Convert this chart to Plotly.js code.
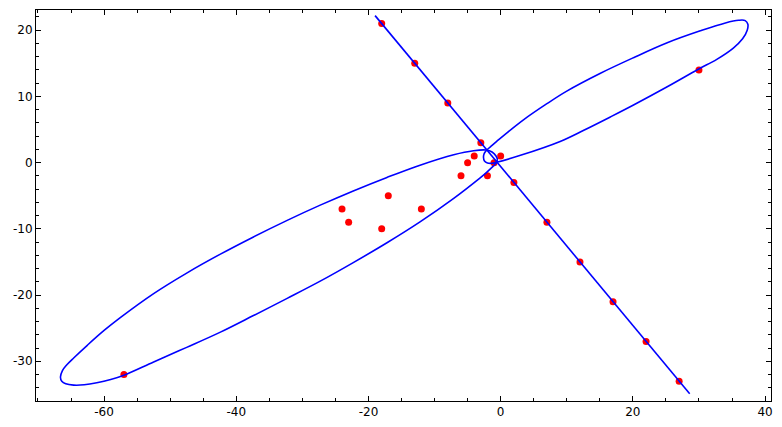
<!DOCTYPE html>
<html>
<head>
<meta charset="utf-8">
<script src="https://cdn.plot.ly/plotly-3.0.1.min.js"></script>
<style>html,body{margin:0;padding:0;background:#fff;}#chart{width:782px;height:427px;}</style>
</head>
<body>
<div id="chart"></div>
<script>
// Red points
const pointsX = [-18, -13, -8, -3, 2, 7, 12, 17, 22, 27, 30, -57, -24, -23, -18, -17, -12, -6, -5, -4, -2, -1, 0];
const pointsY = [21, 15, 9, 3, -3, -9, -15, -21, -27, -33, 14, -32, -7, -9, -10, -5, -7, -2, 0, 1, -2, 0, 1];

// Straight line (end points)
const lineX = [-19.0, 28.6];
const lineY = [22.2, -34.9];

// Lower-left oval (closed path)
const lowerOvalX = [-0.5, -0.7, -1.3, -2.2, -4.1, -7.1, -12.2, -17.2, -22.3, -27.3, -32.3, -37.4, -42.4, -47.5, -52.5, -57.6, -60, -62.5, -64.6, -65.7, -66.3, -66.6, -66.4, -65.8, -64.6, -63, -61.1, -59, -57, -52.5, -47.5, -42.4, -37.4, -32.3, -27.3, -22.3, -17.2, -12.2, -7.1, -3.1, -2.2, -1.4, -0.75, -0.5];
const lowerOvalY = [0.4, 1.0, 1.6, 1.9, 1.8, 1.2, -0.38, -2.23, -4.27, -6.42, -8.72, -11.22, -13.82, -16.68, -19.78, -23.45, -25.35, -27.55, -29.5, -30.6, -31.4, -32.4, -33.0, -33.4, -33.6, -33.55, -33.25, -32.75, -32.1, -30.1, -27.9, -25.6, -23.1, -20.5, -17.9, -15.1, -12.1, -8.95, -5.4, -2.3, -1.55, -0.8, -0.15, 0.4];

// Upper-right oval (closed path)
const upperOvalX = [-2.6, -2.5, -2.1, -1.3, -0.6, 0.95, 3.5, 7, 10, 15.1, 20.1, 25.2, 30.2, 34, 36, 37.0, 37.4, 37.3, 36.6, 35.2, 32.7, 29.9, 25.2, 20.1, 16.6, 12.5, 9.0, 3.0, -0.6, -1.3, -2.0, -2.45, -2.6];
const upperOvalY = [0.8, 1.35, 1.9, 2.6, 3.2, 4.5, 6.5, 8.9, 10.8, 13.5, 15.85, 18.1, 19.9, 21.1, 21.5, 21.45, 20.9, 20.0, 18.7, 17.3, 15.6, 14.1, 11.45, 8.7, 6.9, 4.85, 3.2, 1.1, 0.05, -0.1, -0.05, 0.25, 0.8];

// Tick labels
const xTickVals = [-60, -40, -20, 0, 20, 40];
const xTickText = ['-60', '-40', '-20', '0', '20', '40'];
const yTickVals = [-30, -20, -10, 0, 10, 20];
const yTickText = ['-30', '-20', '-10', '0', '10', '20'];

const blueLine = {color: '#0000ff', width: 1.6};

const traces = [
  {x: pointsX, y: pointsY, type: 'scatter', mode: 'markers',
   marker: {color: '#ff0000', size: 7, line: {width: 0}}},
  {x: lineX, y: lineY, type: 'scatter', mode: 'lines', line: blueLine},
  {x: lowerOvalX, y: lowerOvalY, type: 'scatter', mode: 'lines',
   line: Object.assign({shape: 'spline', smoothing: 1}, blueLine)},
  {x: upperOvalX, y: upperOvalY, type: 'scatter', mode: 'lines',
   line: Object.assign({shape: 'spline', smoothing: 1}, blueLine)}
];

const axisCommon = {
  showgrid: false, zeroline: false, showline: true, linecolor: '#000', linewidth: 1,
  mirror: 'allticks', ticks: 'inside', ticklen: 5, tickwidth: 1, tickcolor: '#000',
  tickmode: 'array', tickfont: {family: 'DejaVu Sans', size: 12, color: '#000'}
};

const layout = {
  width: 782, height: 427,
  margin: {l: 36, r: 11, t: 10, b: 26, pad: 0},
  paper_bgcolor: '#fff', plot_bgcolor: '#fff',
  showlegend: false,
  xaxis: Object.assign({}, axisCommon, {
    range: [-70.3, 40.9], tickvals: xTickVals, ticktext: xTickText,
    minor: {tickmode: 'linear', tick0: 0, dtick: 5, ticks: 'inside', ticklen: 3, tickwidth: 1, tickcolor: '#000', showgrid: false}
  }),
  yaxis: Object.assign({}, axisCommon, {
    range: [-36.0, 23.05], tickvals: yTickVals, ticktext: yTickText,
    minor: {tickmode: 'linear', tick0: 0, dtick: 2, ticks: 'inside', ticklen: 3, tickwidth: 1, tickcolor: '#000', showgrid: false}
  })
};

Plotly.newPlot('chart', traces, layout, {staticPlot: true, displayModeBar: false});
</script>
</body>
</html>
